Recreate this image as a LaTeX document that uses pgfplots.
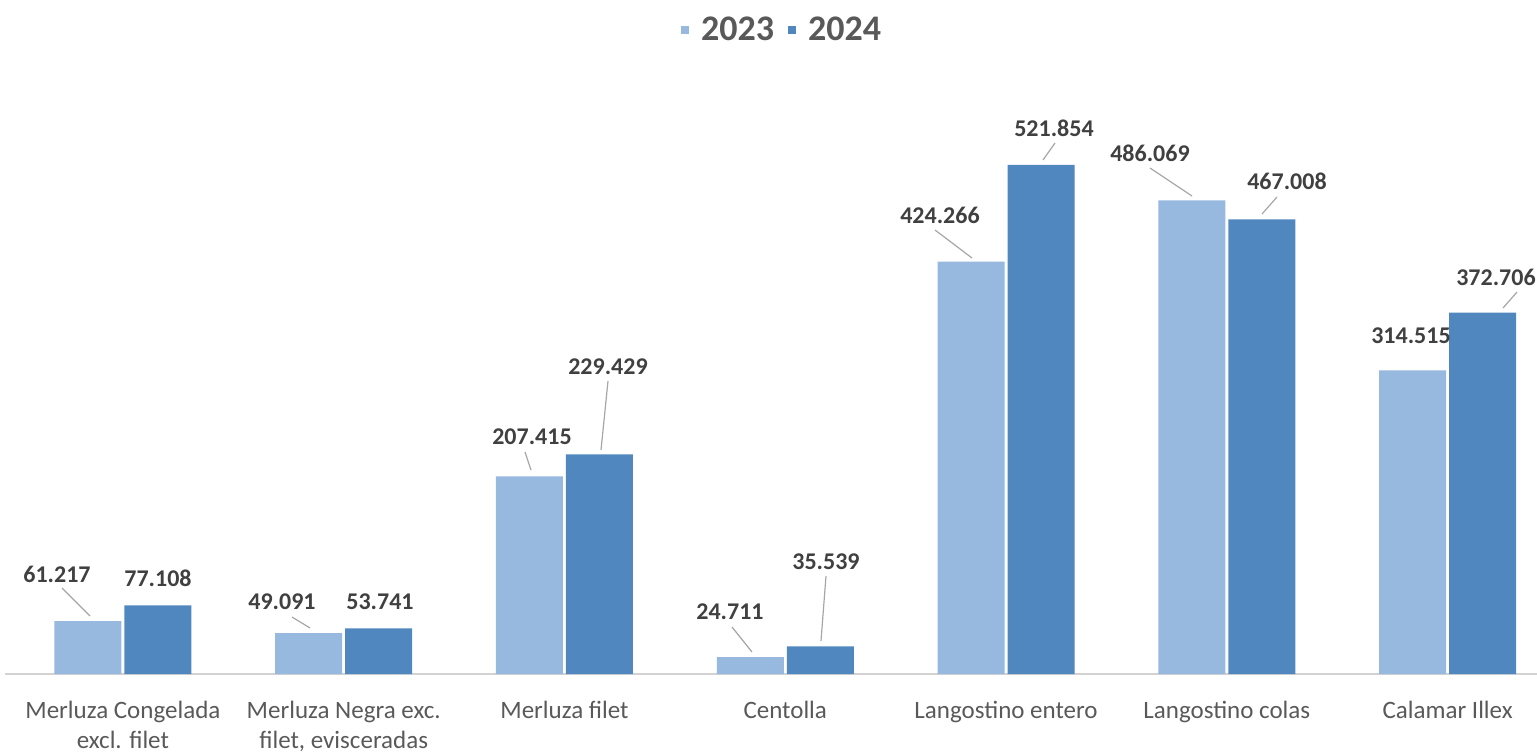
\documentclass[border=0pt]{standalone}
\usepackage{pgfplots}
\pgfplotsset{compat=1.18}
\usepackage{fontspec}
\setmainfont{Carlito}
\definecolor{c2023}{HTML}{97B9E0}
\definecolor{c2024}{HTML}{4F87BE}
\definecolor{lbl}{HTML}{404040}
\definecolor{cat}{HTML}{595959}
\definecolor{leader}{HTML}{A6A6A6}

\begin{document}
\begin{tikzpicture}
\begin{axis}[
  at={(2.5pt,39pt)}, anchor=south west,
  scale only axis, width=776.5pt, height=273.4pt,
  xmin=-0.534, xmax=6.5, ymin=7.7, ymax=560,
  ybar=1.5pt, bar width=33.5pt,
  axis x line*=bottom, axis y line=none,
  x axis line style={draw=gray!35, line width=0.8pt, -},
  xtick={0,...,6},
  xticklabels={{Merluza Congelada\\excl. filet},
    {Merluza Negra exc.\\filet, evisceradas},
    {Merluza filet}, {Centolla}, {Langostino entero},
    {Langostino colas}, {Calamar Illex}},
  major tick length=0pt,
  xticklabel style={font=\fontsize{12.5}{15}\selectfont, text=cat,
    align=center, yshift=-10pt},
  ytick=\empty,
  legend columns=2,
  legend style={at={(0.501,1.178)}, anchor=center, draw=none,
    font=\bfseries\fontsize{18}{18}\selectfont, text=cat,
    /tikz/every even column/.append style={column sep=5pt}},
  legend image code/.code={\fill[#1] (0pt,-2pt) rectangle (4pt,2pt);
    \path (8pt,0pt);},
]
\addplot[fill=c2023, draw=none] coordinates {
  (0,61.217) (1,49.091) (2,207.415) (3,24.711)
  (4,424.266) (5,486.069) (6,314.515)};
\addplot[fill=c2024, draw=none] coordinates {
  (0,77.108) (1,53.741) (2,229.429) (3,35.539)
  (4,521.854) (5,467.008) (6,372.706)};
\legend{2023,2024}
\end{axis}

% data labels, positioned in pixel units of the reference
\begin{scope}[x=0.5pt, y=-0.5pt, yshift=376pt,
  every node/.style={font=\bfseries\fontsize{12}{12}\selectfont, text=lbl},
  ld/.style={draw=leader, line width=0.6pt}]
  \node at (57,574) {61.217};   \draw[ld] (62,588) -- (90,616);
  \node at (158,578) {77.108};
  \node at (282,602) {49.091};  \draw[ld] (292,617) -- (310,628);
  \node at (380,602) {53.741};
  \node at (532,437) {207.415}; \draw[ld] (525,452) -- (531,470);
  \node at (608,367) {229.429}; \draw[ld] (608,381) -- (601,450);
  \node at (730,612) {24.711};  \draw[ld] (732,627) -- (752,652);
  \node at (826,562) {35.539};  \draw[ld] (826,576) -- (821,641);
  \node at (940,215) {424.266}; \draw[ld] (935,230) -- (972,258);
  \node at (1054,128) {521.854};\draw[ld] (1055,143) -- (1043,160);
  \node at (1150,153) {486.069};\draw[ld] (1150,168) -- (1192,196);
  \node at (1287,181) {467.008};\draw[ld] (1277,197) -- (1262,214);
  \node at (1411,336) {314.515};
  \node at (1496,277) {372.706};\draw[ld] (1517,292) -- (1503,308);
\end{scope}
\pgfresetboundingbox
\path[use as bounding box] (0,0) rectangle (768.5pt,376pt);
\end{tikzpicture}
\end{document}
